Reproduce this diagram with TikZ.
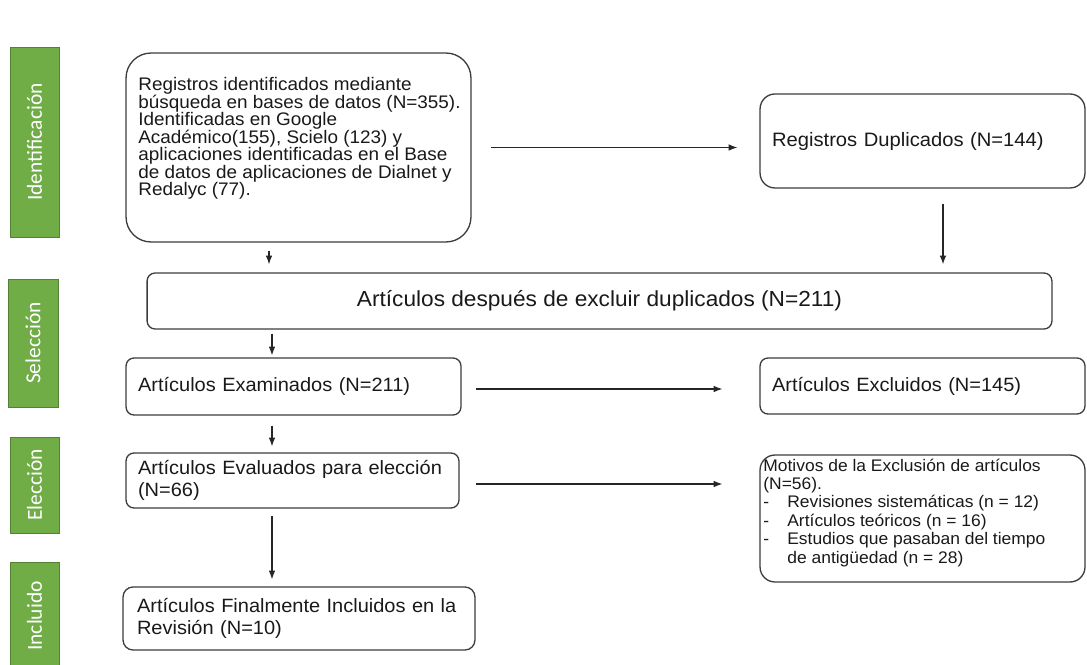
\documentclass[tikz,border=0pt]{standalone}
\usepackage{fontspec}
\setmainfont{Liberation Sans}[FakeStretch=1.04]
\newfontfamily\phasefont{Carlito}
\usetikzlibrary{shapes, arrows.meta, positioning}

\begin{document}
\begin{tikzpicture}[x=0.02cm, y=-0.02cm, >={Latex[length=5pt,width=3.8pt]}]

\definecolor{my_green}{RGB}{112,173,71}
\definecolor{my_green_dark}{RGB}{84,130,53}
\definecolor{my_line}{RGB}{60,60,60}
\definecolor{my_text}{RGB}{25,25,25}

\tikzstyle{phase} = [rectangle, draw=my_green_dark, fill=my_green, text=white, rotate=90, minimum height=0.98cm, inner sep=0pt, font=\phasefont\fontsize{12.2}{14}\selectfont]
\tikzstyle{block} = [rectangle, draw=my_line, line width=0.75pt, rounded corners=0.16cm, text=my_text, align=left, inner xsep=0.24cm, inner ysep=0pt, font=\fontsize{10.95}{12.2}\selectfont]
\tikzstyle{txt} = [text=my_text, align=left, inner sep=0pt]
\tikzstyle{line} = [draw=black!85, line width=0.7pt]

	\useasboundingbox (0,0) rectangle (1087,665);

	% fases
	\node [phase, minimum width=3.8cm] (p_ident) at (34.5,142) {Identificación};
	\node [phase, minimum width=2.56cm, minimum height=1cm] (p_sel) at (33,343) {Selección};
	\node [phase, minimum width=1.92cm] (p_elec) at (34.5,485) {Elección};
	\node [phase, minimum width=2.16cm] (p_incl) at (34.5,616) {Incluido};

	% cajas
	\node [block, minimum width=6.9cm, minimum height=3.78cm, rounded corners=0.5cm] (regs) at (298.5,147.5) {};
	\node [txt, anchor=north west, font=\fontsize{10.35}{10}\selectfont] (regs_txt) at (138,77) {Registros identificados mediante\\búsqueda en bases de datos (N=355).\\Identificadas en Google\\Académico(155), Scielo (123) y\\aplicaciones identificadas en el Base\\de datos de aplicaciones de Dialnet y\\Redalyc (77).};

	\node [block, minimum height=1.88cm, text width=6.02cm, rounded corners=0.3cm, font=\fontsize{11.05}{12}\selectfont] (dup) at (922.5,141) {Registros Duplicados (N=144)};

	\node [block, minimum width=18.1cm, minimum height=1.12cm, align=center, font=\fontsize{12.4}{14}\selectfont] (desp) at (599.5,301) {Artículos después de excluir duplicados (N=211)};

	\node [block, minimum height=1.14cm, text width=6.22cm] (exam) at (293.5,386.5) {Artículos Examinados (N=211)};
	\node [block, minimum height=1.12cm, text width=6.02cm] (excl) at (922.5,386) {Artículos Excluidos (N=145)};

	\node [block, minimum height=1.1cm, text width=6.18cm] (eval) at (292.5,480.5) {Artículos Evaluados para elección\\(N=66)};
	\node [block, minimum width=6.5cm, minimum height=2.54cm, rounded corners=0.3cm] (motiv) at (922.5,518.5) {};
	\node [txt, anchor=north west, font=\fontsize{9.55}{10.45}\selectfont] (motiv_txt) at (763,458.5) {Motivos de la Exclusión de artículos\\(N=56).\\\makebox[0.48cm][l]{-}Revisiones sistemáticas (n = 12)\\\makebox[0.48cm][l]{-}Artículos teóricos (n = 16)\\\makebox[0.48cm][l]{-}Estudios que pasaban del tiempo\\\hspace*{0.48cm}de antigüedad (n = 28)};

	\node [block, minimum height=1.26cm, inner xsep=0.28cm, text width=6.48cm, rounded corners=0.2cm] (incl) at (299,618.5) {Artículos Finalmente Incluidos en la\\Revisión (N=10)};

	% flechas
	\path [line, ->, shorten <=0.38cm, shorten >=0.44cm] (regs.east) -- (regs.east -| dup.west);
	\path [line, ->, shorten <=0.3cm, shorten >=0.16cm] ([xshift=0.41cm]dup.south) -- ([xshift=0.41cm]dup.south |- desp.north);
	\path [line, ->, shorten <=0.16cm, shorten >=0.16cm] ([xshift=-0.59cm]regs.south) -- ([xshift=-0.59cm]regs.south |- desp.north);
	\path [line, ->, shorten <=0.08cm, shorten >=0.04cm] ([xshift=-0.43cm]exam.north |- desp.south) -- ([xshift=-0.43cm]exam.north);
	\path [line, ->, shorten <=0.28cm, shorten >=0.74cm] ([yshift=-0.05cm]exam.east) -- ([yshift=-0.05cm]exam.east -| excl.west);
	\path [line, ->, shorten <=0.2cm, shorten >=0.12cm] ([xshift=-0.43cm]exam.south) -- ([xshift=-0.43cm]exam.south |- eval.north);
	\path [line, ->, shorten <=0.32cm, shorten >=0.74cm] ([yshift=-0.07cm]eval.east) -- ([yshift=-0.07cm]eval.east -| motiv.west);
	\path [line, ->, shorten <=0.14cm, shorten >=0.14cm] ([xshift=-0.41cm]eval.south) -- ([xshift=-0.41cm]eval.south |- incl.north);

\end{tikzpicture}
\end{document}
